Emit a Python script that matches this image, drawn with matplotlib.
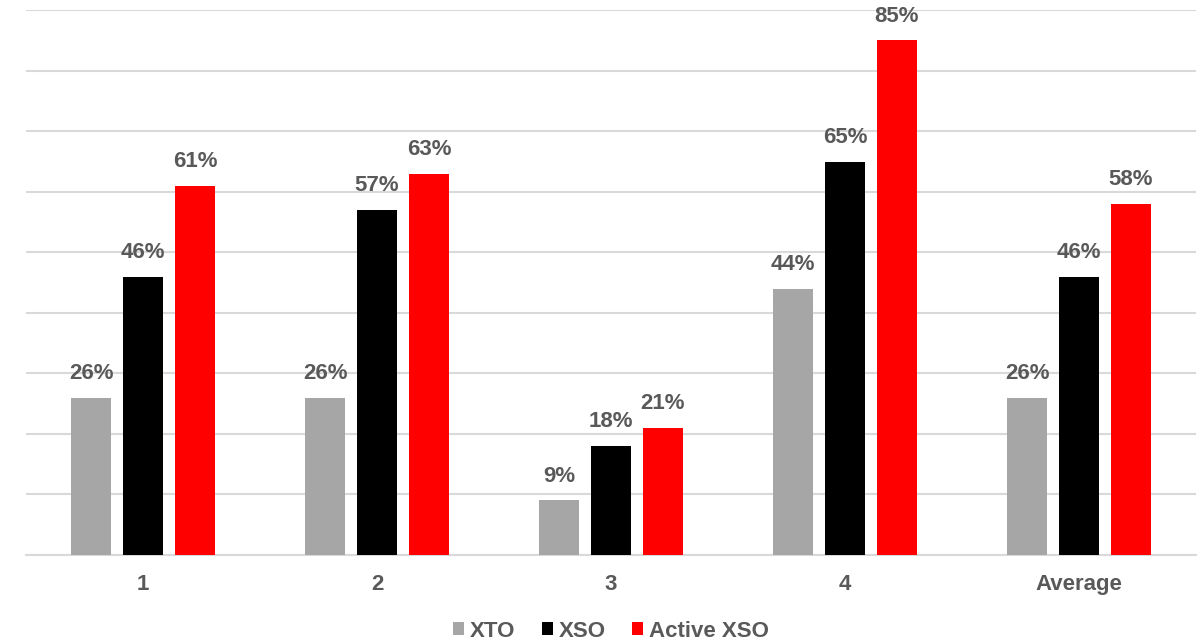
import matplotlib.pyplot as plt
import numpy as np

plt.rcParams['font.family'] = ['Liberation Sans', 'DejaVu Sans']

# Data
categories = ['1', '2', '3', '4', 'Average']
series_names = ['XTO', 'XSO', 'Active XSO']
xto = [26, 26, 9, 44, 26]
xso = [46, 57, 18, 65, 46]
active_xso = [61, 63, 21, 85, 58]
colors = ['#a6a6a6', '#000000', '#ff0000']

text_color = '#595959'
grid_color = '#d9d9d9'

fig = plt.figure(figsize=(12.02, 6.4), dpi=100)
ax = fig.add_axes([0.0216, 0.133, 0.9734, 0.851])

x = np.arange(len(categories))
width = 0.171
step = 0.222

for i, (vals, name, col) in enumerate(zip([xto, xso, active_xso], series_names, colors)):
    pos = x + (i - 1) * step
    bars = ax.bar(pos, vals, width, color=col, label=name, zorder=3)
    for b, v in zip(bars, vals):
        ax.annotate(f'{v}%', (b.get_x() + b.get_width() / 2, b.get_height()),
                    xytext=(0, 10), textcoords='offset points',
                    ha='center', va='bottom', fontsize=16, fontweight='bold',
                    color=text_color)

ax.set_xlim(-0.5, len(categories) - 0.5)
ax.set_ylim(0, 90)
ax.set_yticks(np.arange(0, 91, 10))
ax.set_yticklabels([])
ax.yaxis.grid(True, color=grid_color, linewidth=1.5, zorder=0)
ax.tick_params(axis='both', length=0)
ax.set_xticks(x)
ax.set_xticklabels(categories, fontsize=16, fontweight='bold', color=text_color)
ax.tick_params(axis='x', pad=14)
for s in ['top', 'right', 'left']:
    ax.spines[s].set_visible(False)
ax.spines['bottom'].set_color(grid_color)
ax.spines['bottom'].set_linewidth(1.5)
ax.spines['bottom'].set_zorder(2)

leg = ax.legend(loc='lower center', bbox_to_anchor=(0.5, -0.188), ncol=3, frameon=False,
                handlelength=0.5, handleheight=0.5, handletextpad=0.25, columnspacing=1.2,
                borderpad=0.2, prop={'size': 16, 'weight': 'bold'})
for t in leg.get_texts():
    t.set_color(text_color)

fig.savefig('out.png', dpi=100)
